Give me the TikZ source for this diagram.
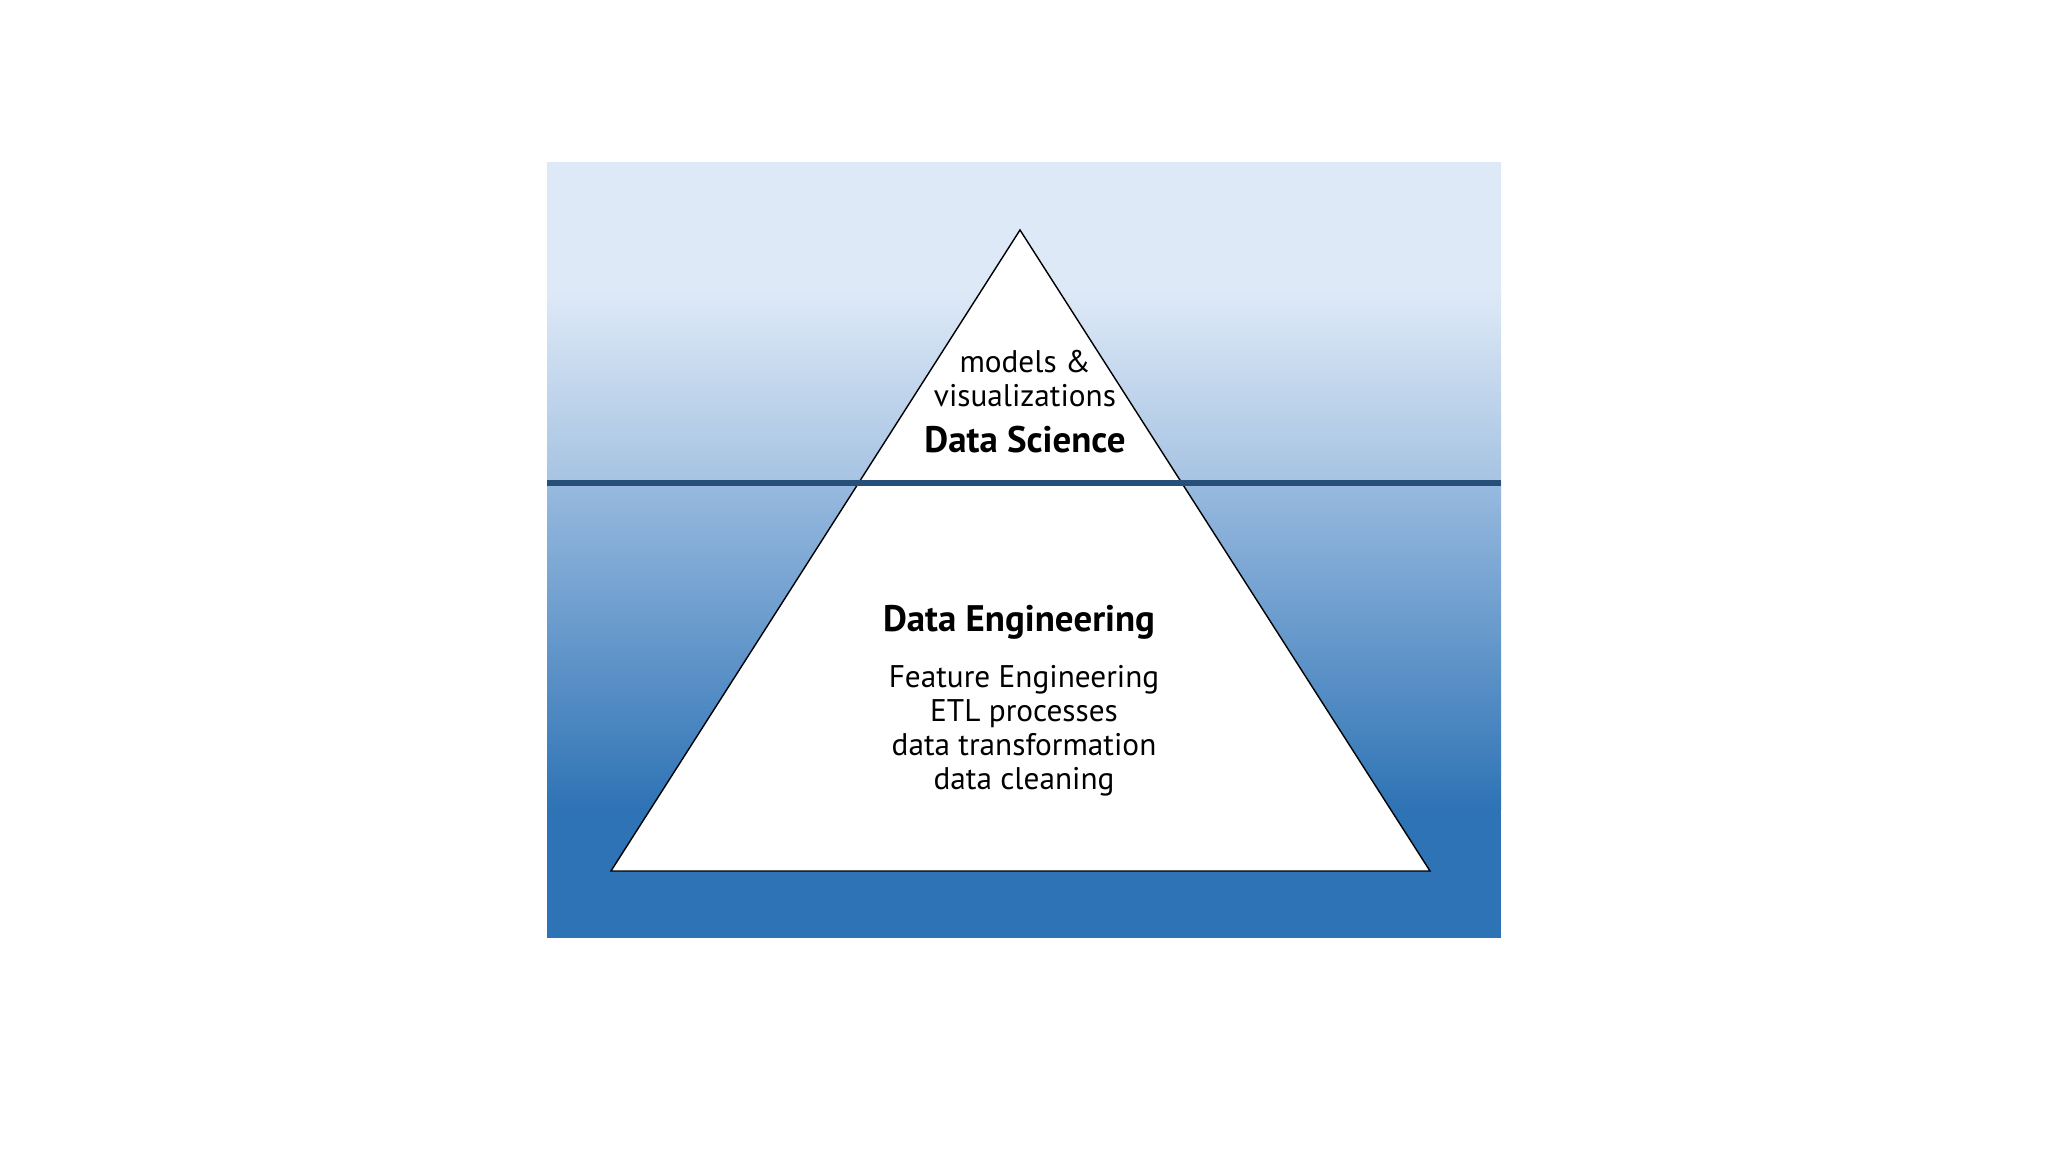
\documentclass[tikz,border=0pt]{standalone}
\usepackage{fontspec}
\setmainfont{PT Sans}
\tikzset{
  bodytext/.style={font=\fontsize{8.9}{9.7}\selectfont, align=center, inner sep=0pt},
  headtext/.style={font=\fontsize{10.5}{12}\selectfont\bfseries, inner sep=0pt}
}
\definecolor{skytop}{HTML}{DEE9F7}
\definecolor{skylow}{HTML}{A6C3E2}
\definecolor{seatop}{HTML}{98BADF}
\definecolor{seabot}{HTML}{2E73B5}
\definecolor{waterline}{HTML}{264F7A}
\begin{document}
\begin{tikzpicture}
      \def\left{5.47}
      \def\right{15.01}
      \def\top{9.90}
      \def\bottom{2.14}
      \def\water{6.69}
      \useasboundingbox (0,0) rectangle (20.48,11.52);
      \fill[skytop] (\left,8.62) rectangle (\right,\top);
      \shade[top color=skytop, bottom color=skylow] (\left,\water) rectangle (\right,8.62);
      \shade[top color=seatop, bottom color=seabot] (\left,3.42) rectangle (\right,\water);
      \fill[seabot] (\left,\bottom) rectangle (\right,3.42);
      \coordinate (apex) at (10.20,9.22);
      \coordinate (baseleft) at (6.11,2.81);
      \coordinate (baseright) at (14.30,2.81);
      \filldraw[fill=white, draw=black, line width=0.4pt, line join=miter] (apex) -- (baseright) -- (baseleft) -- cycle;
      \coordinate (waterleft) at (\left,\water);
      \coordinate (waterright) at (\right,\water);
      \draw[waterline, line width=1.5pt] (waterleft) -- (waterright);
      \node[bodytext] (models) at (10.25,7.90) {models \&};
      \node[bodytext] (visual) at (10.25,7.56) {visualizations};
      \node[headtext] (science) at (10.25,7.12) {Data Science};
      \node[headtext] (engineering) at (10.19,5.30) {Data Engineering};
      \node[bodytext] (tasks) at (10.24,4.21) {Feature Engineering\\ETL processes\\data transformation\\data cleaning};
    \end{tikzpicture}
\end{document}
